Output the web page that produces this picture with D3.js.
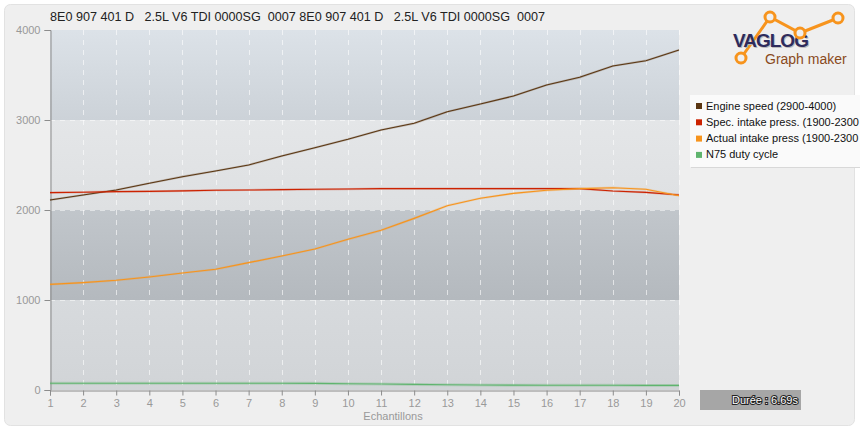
<!DOCTYPE html>
<html><head><meta charset="utf-8">
<script src="https://cdn.jsdelivr.net/npm/d3@7"></script>
<style>body{margin:0;background:#fff;}svg{display:block;font-family:"Liberation Sans",Arial,sans-serif;}</style>
</head><body>
<svg id="c" width="860" height="430"></svg>
<script>
const samples = d3.range(1, 21);
const engineSpeed = [2111,2167,2222,2297,2370,2433,2500,2600,2692,2786,2889,2963,3092,3178,3267,3389,3474,3600,3659,3778];
const specIntake  = [2193,2198,2204,2207,2213,2220,2222,2226,2230,2233,2238,2238,2238,2238,2238,2238,2238,2211,2196,2167];
const actualIntake= [1174,1193,1219,1256,1300,1341,1415,1489,1567,1674,1774,1907,2048,2130,2185,2219,2237,2248,2230,2159];
const n75Duty     = [75,75,75,75,75,75,75,75,74,70,66,62,58,55,54,53,52,52,51,51];
const yTicks = [0,1000,2000,3000,4000];
const seriesNames = ["Engine speed (2900-4000)","Spec. intake press. (1900-2300","Actual intake press (1900-2300","N75 duty cycle"];
const seriesColors = ["#5a3612","#cc2200","#f7941d","#5fb46e"];
const titleText = "8E0 907 401 D   2.5L V6 TDI 0000SG  0007 8E0 907 401 D   2.5L V6 TDI 0000SG  0007";
const durationText = "Durée : 6.69s";

const svg = d3.select("#c");
const L=50,R=679,T=30,B=390;
const x = d3.scaleLinear().domain([1,20]).range([L,R]);
const y = d3.scaleLinear().domain([0,4000]).range([B,T]);

svg.append("rect").attr("x",4.5).attr("y",4.5).attr("width",850).attr("height",421).attr("rx",6)
  .attr("fill","#efefef").attr("stroke","#e2e2e2");

const defs = svg.append("defs");
function grad(id,c1,c2){const g=defs.append("linearGradient").attr("id",id).attr("x1",0).attr("y1",0).attr("x2",0).attr("y2",1);
  g.append("stop").attr("offset","0%").attr("stop-color",c1);g.append("stop").attr("offset","100%").attr("stop-color",c2);}
grad("b3","#dce2e8","#ccd2d8");
grad("b2","#e4e6e8","#dee0e2");
grad("b1","#c1c6cb","#b4b9be");
grad("b0","#d7dadd","#d1d4d7");
const bands=[[3000,4000,"b3"],[2000,3000,"b2"],[1000,2000,"b1"],[0,1000,"b0"]];
svg.selectAll("rect.band").data(bands).join("rect").attr("class","band")
  .attr("x",L).attr("width",R-L).attr("y",d=>y(d[1])).attr("height",d=>y(d[0])-y(d[1]))
  .attr("fill",d=>`url(#${d[2]})`);

svg.selectAll("line.vg").data(samples.slice(1)).join("line").attr("class","vg")
  .attr("x1",d=>Math.round(x(d))+0.5).attr("x2",d=>Math.round(x(d))+0.5).attr("y1",T).attr("y2",B)
  .attr("stroke","#fff").attr("stroke-opacity",0.6).attr("stroke-dasharray","5,5");
svg.selectAll("line.hg").data([1000,2000,3000]).join("line").attr("class","hg")
  .attr("x1",L).attr("x2",R).attr("y1",d=>y(d)+0.5).attr("y2",d=>y(d)+0.5)
  .attr("stroke","#fff").attr("stroke-opacity",0.5).attr("stroke-dasharray","5,5");

const yAxis = d3.axisLeft(y).tickValues(yTicks).tickSize(6).tickPadding(4).tickFormat(d3.format("d"));
const gy = svg.append("g").attr("transform",`translate(${L+0.5},0)`).call(yAxis);
const xAxis = d3.axisBottom(x).tickValues(samples).tickSize(5).tickPadding(4).tickFormat(d3.format("d"));
const gx = svg.append("g").attr("transform",`translate(0,${B+0.5})`).call(xAxis);
[gx,gy].forEach(g=>{g.select(".domain").attr("stroke","#8c8c8c");g.selectAll(".tick line").attr("stroke","#8c8c8c");
  g.selectAll("text").attr("fill","#999").attr("font-size",11).attr("font-family","Liberation Sans, Arial, sans-serif");});

svg.append("text").attr("x",393).attr("y",420).attr("text-anchor","middle").attr("fill","#999").attr("font-size",11).text("Echantillons");

const allSeries=[engineSpeed,specIntake,actualIntake,n75Duty];
const line=d3.line().x((d,i)=>x(samples[i])).y(d=>y(d));
[3,0,1,2].forEach(k=>{
  svg.append("path").datum(allSeries[k]).attr("d",line).attr("fill","none")
    .attr("stroke",seriesColors[k]).attr("stroke-opacity",0.25).attr("stroke-width",k===3?3:2.2);
  svg.append("path").datum(allSeries[k]).attr("d",line).attr("fill","none")
    .attr("stroke",seriesColors[k]).attr("stroke-width",1.1);
});

svg.append("text").attr("x",50).attr("y",21).attr("font-size",12.6).attr("fill","#222")
  .style("white-space","pre").text(titleText);

const logoPts=[[741,58],[770,17],[800,33],[838,18]];
svg.append("path").attr("d",d3.line()(logoPts)).attr("fill","none").attr("stroke","#f7941d").attr("stroke-width",3);
svg.append("text").attr("x",733).attr("y",47).attr("font-size",19).attr("font-weight","bold").attr("fill","#bbb")
  .attr("letter-spacing",-1).attr("dx",1).attr("dy",1).text("VAGLOG");
svg.append("text").attr("x",733).attr("y",47).attr("font-size",19).attr("font-weight","bold").attr("fill","#2e2b5c")
  .attr("letter-spacing",-1).text("VAGLOG");
svg.selectAll("circle.logo").data(logoPts).join("circle").attr("class","logo")
  .attr("cx",d=>d[0]).attr("cy",d=>d[1]).attr("r",5).attr("fill","#efefef").attr("stroke","#f7941d").attr("stroke-width",3);
svg.append("text").attr("x",765).attr("y",64).attr("font-size",14).attr("fill","#8a4a1c").text("Graph maker");

svg.append("rect").attr("x",691).attr("y",96).attr("width",175).attr("height",72).attr("fill","#d8d8d8");
svg.append("rect").attr("x",690).attr("y",95).attr("width",175).attr("height",72).attr("fill","#fafafa");
const lg = svg.selectAll("g.lg").data(seriesNames).join("g").attr("class","lg")
  .attr("transform",(d,i)=>`translate(696,${108+i*16.3})`);
lg.append("rect").attr("x",0).attr("y",-5).attr("width",6).attr("height",6).attr("fill",(d,i)=>seriesColors[i]);
lg.append("text").attr("x",10).attr("y",1.5).attr("font-size",11).attr("fill","#111").text(d=>d);

svg.append("rect").attr("x",700).attr("y",390).attr("width",101).attr("height",20).attr("fill","#a6a6a6");
svg.append("text").attr("x",798).attr("y",404).attr("text-anchor","end").attr("font-size",11).attr("fill","#fff")
  .attr("stroke","#222").attr("stroke-width",2).attr("paint-order","stroke").text(durationText);
</script>
</body></html>
